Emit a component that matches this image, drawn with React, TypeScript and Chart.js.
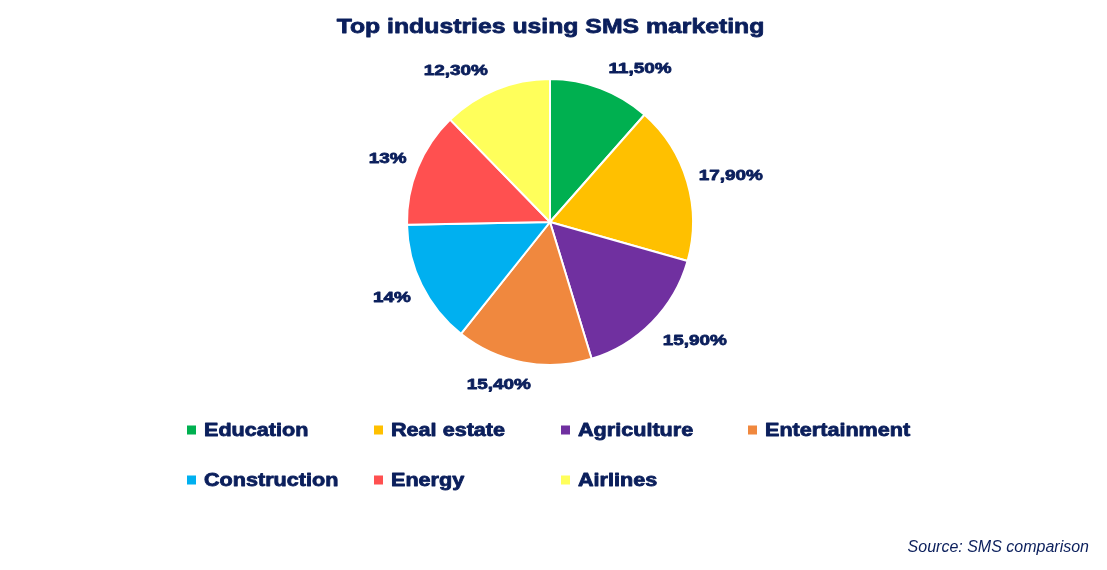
import React, { useEffect, useRef } from "react";
import { Chart, registerables } from "chart.js";

Chart.register(...registerables);

const titleText = "Top industries using SMS marketing";
const sourceText = "Source: SMS comparison";
const categories = ["Education", "Real estate", "Agriculture", "Entertainment", "Construction", "Energy", "Airlines"];
const shares = [11.5, 17.9, 15.9, 15.4, 14, 13, 12.3];
const colors = ["#00B050", "#FFC000", "#7030A0", "#F0883E", "#00B0F0", "#FF5050", "#FFFF5B"];

const NAVY = "#0B1F5C";
const FONT = '"Liberation Sans", Arial, sans-serif';

const fmt = (v: number) => (Number.isInteger(v) ? `${v}%` : v.toFixed(2).replace(".", ",") + "%");

function drawStretched(ctx: CanvasRenderingContext2D, text: string, x: number, y: number, sx: number, align: CanvasTextAlign, heavy = true) {
  ctx.save();
  ctx.translate(x, y);
  ctx.scale(sx, 1);
  ctx.textAlign = align;
  ctx.fillText(text, 0, 0);
  if (heavy) {
    ctx.strokeStyle = ctx.fillStyle as string;
    ctx.lineWidth = 0.8;
    ctx.lineJoin = "round";
    ctx.strokeText(text, 0, 0);
  }
  ctx.restore();
}

const clamp = (v: number, lo = -1, hi = 1) => Math.max(lo, Math.min(hi, v));

const decorPlugin = {
  id: "decor",
  afterDraw(chart: any) {
    const ctx: CanvasRenderingContext2D = chart.ctx;
    ctx.save();
    ctx.fillStyle = NAVY;
    ctx.textBaseline = "alphabetic";

    // Title
    const tSize = 21;
    ctx.font = `bold ${tSize}px ${FONT}`;
    drawStretched(ctx, titleText, chart.width / 2 - 3, 25.5 + tSize * 0.358, 1.18, "center");

    // Data labels (outside end)
    const meta = chart.getDatasetMeta(0);
    const lSize = 15;
    const lScale = 1.26;
    ctx.font = `bold ${lSize}px ${FONT}`;
    meta.data.forEach((arc: any, i: number) => {
      const p = arc.getProps(["x", "y", "startAngle", "endAngle", "outerRadius"], true);
      const m = (p.startAngle + p.endAngle) / 2;
      const ux = Math.cos(m);
      const uy = Math.sin(m);
      const txt = fmt(shares[i]);
      const hw = (ctx.measureText(txt).width * lScale) / 2;
      const hh = 9;
      const r = p.outerRadius + 12;
      const extra = 7 * Math.sign(ux) * clamp(Math.abs(uy) - 0.4, 0, 1);
      const cx = p.x + r * ux + hw * clamp(3 * ux) + extra;
      const cy = p.y + r * uy + hh * clamp(1.5 * uy);
      drawStretched(ctx, txt, cx, cy + lSize * 0.358, lScale, "center");
    });

    // Legend
    const gSize = 18;
    const gScale = 1.2;
    ctx.font = `bold ${gSize}px ${FONT}`;
    const x0 = 187;
    const colW = 187;
    const rowY = [430, 480];
    categories.forEach((c, i) => {
      const col = i % 4;
      const row = Math.floor(i / 4);
      const mx = x0 + col * colW;
      const my = rowY[row];
      ctx.fillStyle = colors[i];
      ctx.fillRect(mx, my - 4.5, 9, 9);
      ctx.fillStyle = NAVY;
      drawStretched(ctx, c, mx + 17, my - 0.5 + gSize * 0.358, gScale, "left");
    });

    // Source
    ctx.font = `italic 16px ${FONT}`;
    ctx.textAlign = "right";
    ctx.fillText(sourceText, 1089, 546 + 16 * 0.358);
    ctx.restore();
  },
};

export default function App() {
  const ref = useRef<HTMLCanvasElement | null>(null);
  useEffect(() => {
    if (!ref.current) return;
    const chart = new Chart(ref.current, {
      type: "pie",
      data: {
        labels: categories,
        datasets: [
          {
            data: shares,
            backgroundColor: colors,
            borderColor: "#FFFFFF",
            borderWidth: 2,
          },
        ],
      },
      options: {
        responsive: true,
        maintainAspectRatio: false,
        animation: false,
        layout: { padding: { top: 78, bottom: 204, left: 406, right: 413 } },
        plugins: {
          legend: { display: false },
          title: { display: false },
          tooltip: { enabled: false },
        },
      },
      plugins: [decorPlugin],
    });
    return () => chart.destroy();
  }, []);
  return (
    <div style={{ position: "absolute", left: 0, top: 0, width: 1107, height: 570, background: "#fff" }}>
      <canvas ref={ref} />
    </div>
  );
}
